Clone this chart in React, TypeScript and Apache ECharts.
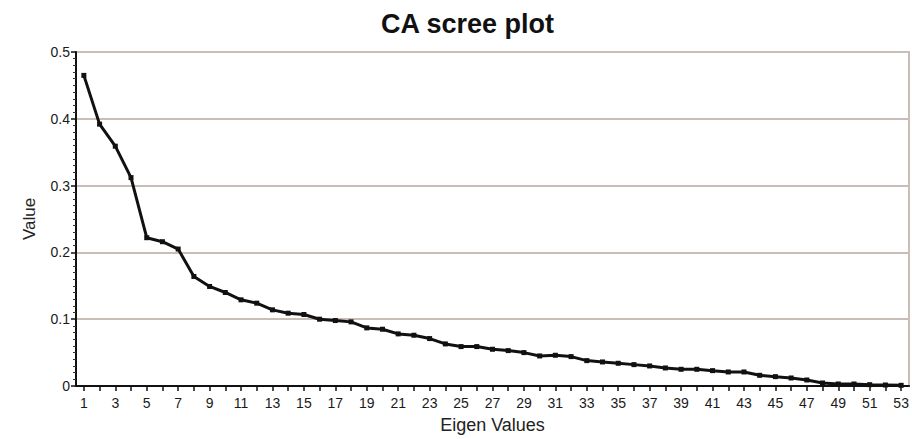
import React, { useEffect, useRef } from "react";
import * as echarts from "echarts";

const categories: string[] = Array.from({ length: 53 }, (_, i) => String(i + 1));

const eigenValues: number[] = [
  0.465, 0.392, 0.359, 0.312, 0.222, 0.216, 0.205, 0.164, 0.149, 0.14,
  0.129, 0.124, 0.114, 0.109, 0.107, 0.1, 0.098, 0.096, 0.087, 0.085,
  0.078, 0.076, 0.071, 0.063, 0.059, 0.059, 0.055, 0.053, 0.05, 0.045,
  0.046, 0.044, 0.038, 0.036, 0.034, 0.032, 0.03, 0.027, 0.025, 0.025,
  0.023, 0.021, 0.021, 0.016, 0.014, 0.012, 0.009, 0.0045, 0.003, 0.003,
  0.002, 0.0015, 0.001,
];

const titleText = "CA scree plot";
const xName = "Eigen Values";
const yName = "Value";

export default function App() {
  const ref = useRef<HTMLDivElement>(null);
  useEffect(() => {
    if (!ref.current) return;
    const chart = echarts.init(ref.current, null, { renderer: "svg" });
    const font = "Arial, 'Liberation Sans', sans-serif";
    chart.setOption({
      animation: false,
      backgroundColor: "#ffffff",
      title: {
        text: titleText,
        left: 376,
        top: 5,
        textStyle: { fontFamily: font, fontSize: 27, fontWeight: "bold", color: "#111" },
      },
      grid: {
        left: 76,
        right: 3,
        top: 52,
        bottom: 51,
        show: true,
        borderColor: "#c9bdb8",
        borderWidth: 2,
        backgroundColor: "#ffffff",
      },
      xAxis: {
        type: "category",
        data: categories,
        boundaryGap: true,
        name: xName,
        nameLocation: "middle",
        nameGap: 30,
        nameTextStyle: { fontFamily: font, fontSize: 18, color: "#222" },
        axisLine: { show: true, lineStyle: { color: "#111", width: 2 } },
        axisTick: { show: true, alignWithLabel: true, interval: 0, length: 5, lineStyle: { color: "#111", width: 1.5 } },
        axisLabel: { interval: 1, fontFamily: font, fontSize: 14, color: "#1a1a1a", margin: 10 },
        splitLine: { show: false },
      },
      yAxis: {
        type: "value",
        min: 0,
        max: 0.5,
        interval: 0.1,
        name: yName,
        nameLocation: "middle",
        nameGap: 38,
        nameTextStyle: { fontFamily: font, fontSize: 17, color: "#222" },
        axisLine: { show: true, lineStyle: { color: "#111", width: 2 } },
        axisTick: { show: true, length: 5, lineStyle: { color: "#111", width: 1.5 } },
        minorTick: { show: true, splitNumber: 10, length: 3, lineStyle: { color: "#333", width: 1 } },
        axisLabel: {
          fontFamily: font,
          fontSize: 14,
          color: "#1a1a1a",
          margin: 6,
          formatter: (v: number) => (v === 0 ? "0" : v.toFixed(1)),
        },
        splitLine: { show: true, lineStyle: { color: "#c9bdb8", width: 2 } },
      },
      series: [
        {
          type: "line",
          data: eigenValues,
          symbol: "rect",
          symbolSize: 5,
          showSymbol: true,
          lineStyle: { color: "#111", width: 3 },
          itemStyle: { color: "#111" },
        },
      ],
    });
    return () => chart.dispose();
  }, []);
  return <div ref={ref} style={{ width: 912, height: 439, position: "absolute", left: 0, top: 0 }} />;
}
